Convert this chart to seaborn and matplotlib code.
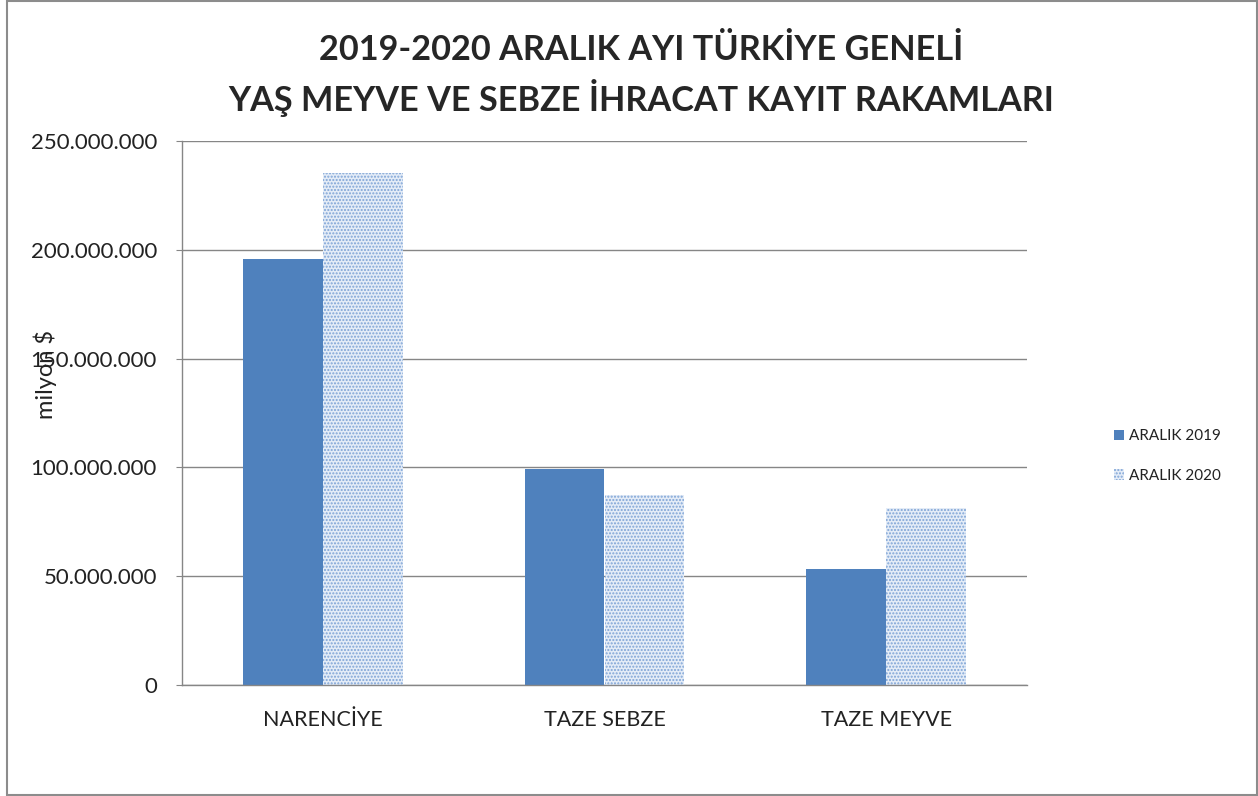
import pandas as pd
import matplotlib.pyplot as plt
import seaborn as sns
from matplotlib.patches import Rectangle
from matplotlib.ticker import FuncFormatter

# veriler
kategoriler = ['NARENCİYE', 'TAZE SEBZE', 'TAZE MEYVE']
aralik_2019 = [196_000_000, 99_200_000, 53_400_000]
aralik_2020 = [235_500_000, 87_200_000, 81_500_000]
seriler = ['ARALIK 2019', 'ARALIK 2020']

df = pd.DataFrame({
    'kategori': kategoriler * 2,
    'seri': [seriler[0]] * 3 + [seriler[1]] * 3,
    'deger': aralik_2019 + aralik_2020,
})

sns.set_style('white')
plt.rcParams['font.family'] = ['Lato', 'DejaVu Sans']
plt.rcParams['hatch.linewidth'] = 1.0

fig = plt.figure(figsize=(12.58, 7.96), dpi=100)
ax = fig.add_axes([182 / 1258, 1 - 685 / 796, 845 / 1258, 544 / 796])

sns.barplot(data=df, x='kategori', y='deger', hue='seri', order=kategoriler,
            hue_order=seriler, palette=['#4F81BD', '#4F81BD'], width=0.567,
            saturation=1, ax=ax, legend=False)

# 2020 serisi: noktali desen
for bar in ax.containers[1]:
    bar.set_facecolor('#e4ecf7')
    bar.set_edgecolor('#7ea3d6')
    bar.set_hatch('.....')
    bar.set_linewidth(0)
for bar in ax.containers[0]:
    bar.set_linewidth(0)

ax.set_xlim(-0.5, 2.5)
ax.set_ylim(0, 250_000_000)
ax.set_yticks(range(0, 250_000_001, 50_000_000))
ax.yaxis.set_major_formatter(FuncFormatter(lambda v, p: f'{int(v):,}'.replace(',', '.')))
ax.grid(axis='y', color='#868686', linewidth=1)
ax.set_axisbelow(True)
for s in ['top', 'right']:
    ax.spines[s].set_visible(False)
for s in ['left', 'bottom']:
    ax.spines[s].set_color('#868686')
    ax.spines[s].set_linewidth(1)

ax.tick_params(axis='y', left=True, length=4, color='#868686', pad=14,
               labelsize=16, labelcolor='#222222')
ax.tick_params(axis='x', length=0, pad=18, labelsize=15.5, labelcolor='#222222')
ax.set_xlabel('')
ax.set_ylabel('milyon $', fontsize=17, color='#222222')
ax.yaxis.set_label_coords(-0.148, 0.57)

# lejant
tutamaklar = [Rectangle((0, 0), 1, 1, facecolor='#4F81BD', linewidth=0),
              Rectangle((0, 0), 1, 1, facecolor='#e4ecf7', edgecolor='#7ea3d6',
                        hatch='.....', linewidth=0)]
fig.legend(tutamaklar, seriler, loc='center left', bbox_to_anchor=(1100 / 1258, 1 - 456 / 796),
           frameon=False, fontsize=11, handlelength=0.7, handleheight=0.7,
           handletextpad=0.3, labelspacing=1.65, labelcolor='#222222')

fig.suptitle('2019-2020 ARALIK AYI TÜRKİYE GENELİ\nYAŞ MEYVE VE SEBZE İHRACAT KAYIT RAKAMLARI',
             x=0.51, y=0.957, fontsize=24.7, fontweight='bold', linespacing=1.4)

# dis cerceve
fig.patches.append(Rectangle((7 / 1258, 1 / 796), 1250 / 1258, 794 / 796,
                             transform=fig.transFigure, fill=False,
                             edgecolor='#8c8c8c', linewidth=1.5))

fig.savefig('out.png', dpi=100)
